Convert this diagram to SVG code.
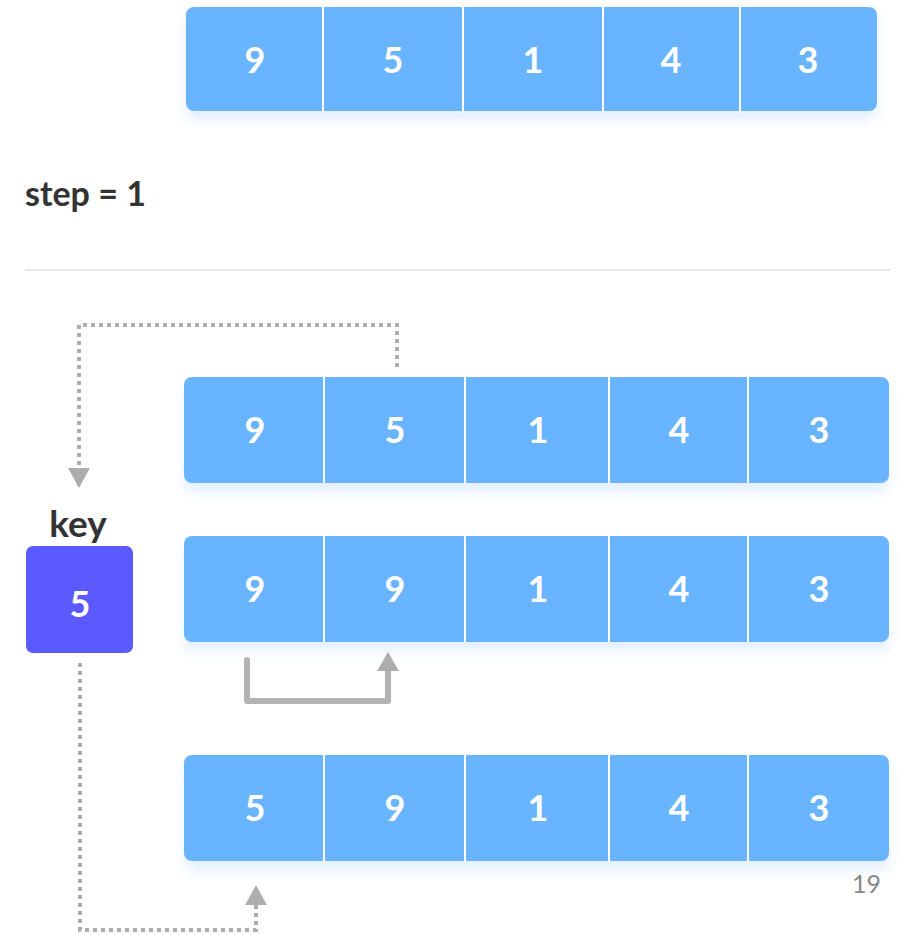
<svg xmlns="http://www.w3.org/2000/svg" width="903" height="934" viewBox="0 0 903 934">
<defs>
<style>
.arr{fill:#69b4ff}
.div{stroke:#ffffff;stroke-width:2}
.num{font-family:Lato,"Liberation Sans",sans-serif;font-weight:bold;font-size:36px;fill:#ffffff;text-anchor:middle}
.lbl{font-family:Lato,"Liberation Sans",sans-serif;font-weight:bold;fill:#333333}
.dot{fill:none;stroke:#adadad;stroke-width:4;stroke-dasharray:4 4}
.solid{fill:none;stroke:#b3b3b3;stroke-width:6;stroke-linejoin:round;stroke-linecap:round}
.head{fill:#adadad}
</style>
<filter id="sh" x="-10%" y="-30%" width="120%" height="180%">
<feDropShadow dx="0" dy="9" stdDeviation="6" flood-color="#8fc2ff" flood-opacity="0.25"/>
</filter>
</defs>
<rect width="903" height="934" fill="#ffffff"/>

<g id="array0">
<rect class="arr" x="186" y="7" width="691" height="104" rx="8" filter="url(#sh)"/>
<line class="div" x1="323" y1="7" x2="323" y2="111"/>
<line class="div" x1="463" y1="7" x2="463" y2="111"/>
<line class="div" x1="603" y1="7" x2="603" y2="111"/>
<line class="div" x1="740" y1="7" x2="740" y2="111"/>
<text class="num" x="255" y="73">9</text>
<text class="num" x="393" y="73">5</text>
<text class="num" x="533" y="73">1</text>
<text class="num" x="671" y="73">4</text>
<text class="num" x="808" y="73">3</text>
</g>

<g id="step-label">
<text class="lbl" x="25" y="206" font-size="34">step = 1</text>
</g>
<g id="separator">
<line x1="25" y1="270" x2="890" y2="270" stroke="#e6e6e6" stroke-width="2"/>
</g>

<g id="array1">
<rect class="arr" x="184" y="377" width="705" height="106" rx="8" filter="url(#sh)"/>
<line class="div" x1="324" y1="377" x2="324" y2="483"/>
<line class="div" x1="465" y1="377" x2="465" y2="483"/>
<line class="div" x1="609" y1="377" x2="609" y2="483"/>
<line class="div" x1="748" y1="377" x2="748" y2="483"/>
<text class="num" x="255" y="443">9</text>
<text class="num" x="395" y="443">5</text>
<text class="num" x="538" y="443">1</text>
<text class="num" x="679" y="443">4</text>
<text class="num" x="819" y="443">3</text>
</g>

<g id="array2">
<rect class="arr" x="184" y="536" width="705" height="106" rx="8" filter="url(#sh)"/>
<line class="div" x1="324" y1="536" x2="324" y2="642"/>
<line class="div" x1="465" y1="536" x2="465" y2="642"/>
<line class="div" x1="609" y1="536" x2="609" y2="642"/>
<line class="div" x1="748" y1="536" x2="748" y2="642"/>
<text class="num" x="255" y="602">9</text>
<text class="num" x="395" y="602">9</text>
<text class="num" x="538" y="602">1</text>
<text class="num" x="679" y="602">4</text>
<text class="num" x="819" y="602">3</text>
</g>

<g id="array3">
<rect class="arr" x="184" y="755" width="705" height="106" rx="8" filter="url(#sh)"/>
<line class="div" x1="324" y1="755" x2="324" y2="861"/>
<line class="div" x1="465" y1="755" x2="465" y2="861"/>
<line class="div" x1="609" y1="755" x2="609" y2="861"/>
<line class="div" x1="748" y1="755" x2="748" y2="861"/>
<text class="num" x="255" y="821">5</text>
<text class="num" x="395" y="821">9</text>
<text class="num" x="538" y="821">1</text>
<text class="num" x="679" y="821">4</text>
<text class="num" x="819" y="821">3</text>
</g>

<g id="key">
<text class="lbl" x="78" y="537" font-size="37" text-anchor="middle">key</text>
<rect x="26" y="546" width="107" height="107" rx="7" fill="#5a5aff"/>
<text class="num" x="80" y="617">5</text>
</g>

<g id="page-number">
<text x="881" y="893" font-family="Lato,'Liberation Sans',sans-serif" font-size="25" fill="#888888" text-anchor="end">19</text>
</g>

<g id="connectors">
<path class="dot" d="M397,367 V325 H79 V470"/>
<polygon class="head" points="68,468 90,468 79,488"/>
<path class="dot" d="M80,663 V930 H256 V903"/>
<polygon class="head" points="245,905 267,905 256,885"/>
<path class="solid" d="M247,660 V701 H388 V668"/>
<polygon class="head" points="377,671 399,671 388,652"/>
</g>
</svg>
